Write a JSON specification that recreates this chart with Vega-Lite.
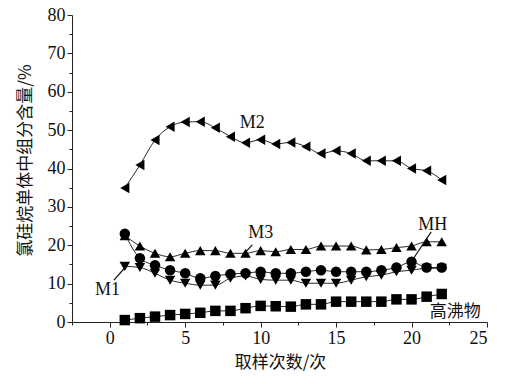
{
  "$schema": "https://vega.github.io/schema/vega-lite/v6.json",
  "width": 415,
  "height": 307,
  "autosize": {"type": "none"},
  "padding": {"left": 72, "top": 15, "right": 22, "bottom": 62},
  "background": "white",
  "config": {
    "view": {"stroke": null},
    "font": "Liberation Serif",
    "axis": {
      "grid": false,
      "domain": true,
      "domainColor": "#222",
      "tickColor": "#222",
      "labelFont": "Liberation Serif",
      "labelFontSize": 18,
      "labelColor": "#111",
      "labelOverlap": false,
      "titleFont": "Noto Sans CJK SC",
      "titleFontSize": 17,
      "titleFontWeight": "normal",
      "titleColor": "#111"
    }
  },
  "datasets": {
    "main": [
      {"series":"M2","x":1,"y":34.9},{"series":"M2","x":2,"y":40.9},{"series":"M2","x":3,"y":47.4},{"series":"M2","x":4,"y":50.9},{"series":"M2","x":5,"y":52.1},{"series":"M2","x":6,"y":52.2},{"series":"M2","x":7,"y":50.6},{"series":"M2","x":8,"y":48.3},{"series":"M2","x":9,"y":46.7},{"series":"M2","x":10,"y":47.5},{"series":"M2","x":11,"y":46.4},{"series":"M2","x":12,"y":46.8},{"series":"M2","x":13,"y":45.7},{"series":"M2","x":14,"y":43.9},{"series":"M2","x":15,"y":44.6},{"series":"M2","x":16,"y":43.9},{"series":"M2","x":17,"y":42.0},{"series":"M2","x":18,"y":42.0},{"series":"M2","x":19,"y":42.0},{"series":"M2","x":20,"y":40.0},{"series":"M2","x":21,"y":39.4},{"series":"M2","x":22,"y":37.0},
      {"series":"M3","x":1,"y":22.5},{"series":"M3","x":2,"y":19.8},{"series":"M3","x":3,"y":17.9},{"series":"M3","x":4,"y":17.0},{"series":"M3","x":5,"y":17.9},{"series":"M3","x":6,"y":18.6},{"series":"M3","x":7,"y":18.6},{"series":"M3","x":8,"y":17.9},{"series":"M3","x":9,"y":17.9},{"series":"M3","x":10,"y":18.6},{"series":"M3","x":11,"y":18.3},{"series":"M3","x":12,"y":18.9},{"series":"M3","x":13,"y":18.9},{"series":"M3","x":14,"y":19.8},{"series":"M3","x":15,"y":19.8},{"series":"M3","x":16,"y":19.8},{"series":"M3","x":17,"y":18.8},{"series":"M3","x":18,"y":18.9},{"series":"M3","x":19,"y":19.4},{"series":"M3","x":20,"y":19.8},{"series":"M3","x":21,"y":20.9},{"series":"M3","x":22,"y":20.9},
      {"series":"MH","x":1,"y":23.0},{"series":"MH","x":2,"y":16.6},{"series":"MH","x":3,"y":14.8},{"series":"MH","x":4,"y":13.5},{"series":"MH","x":5,"y":12.7},{"series":"MH","x":6,"y":11.4},{"series":"MH","x":7,"y":12.0},{"series":"MH","x":8,"y":12.5},{"series":"MH","x":9,"y":12.7},{"series":"MH","x":10,"y":13.1},{"series":"MH","x":11,"y":12.7},{"series":"MH","x":12,"y":12.7},{"series":"MH","x":13,"y":13.1},{"series":"MH","x":14,"y":13.5},{"series":"MH","x":15,"y":13.1},{"series":"MH","x":16,"y":13.1},{"series":"MH","x":17,"y":13.1},{"series":"MH","x":18,"y":13.5},{"series":"MH","x":19,"y":14.2},{"series":"MH","x":20,"y":15.7},{"series":"MH","x":21,"y":14.2},{"series":"MH","x":22,"y":14.2},
      {"series":"M1","x":1,"y":14.5},{"series":"M1","x":2,"y":14.2},{"series":"M1","x":3,"y":12.7},{"series":"M1","x":4,"y":10.9},{"series":"M1","x":5,"y":10.1},{"series":"M1","x":6,"y":9.6},{"series":"M1","x":7,"y":9.6},{"series":"M1","x":8,"y":11.4},{"series":"M1","x":9,"y":12.0},{"series":"M1","x":10,"y":11.1},{"series":"M1","x":11,"y":10.9},{"series":"M1","x":12,"y":10.9},{"series":"M1","x":13,"y":10.1},{"series":"M1","x":14,"y":10.1},{"series":"M1","x":15,"y":10.1},{"series":"M1","x":16,"y":10.9},{"series":"M1","x":17,"y":11.8},{"series":"M1","x":18,"y":12.2},{"series":"M1","x":19,"y":13.1},{"series":"M1","x":20,"y":13.5},{"series":"M1","x":21,"y":14.0},{"series":"M1","x":22,"y":14.0},
      {"series":"高沸物","x":1,"y":0.5},{"series":"高沸物","x":2,"y":1.0},{"series":"高沸物","x":3,"y":1.4},{"series":"高沸物","x":4,"y":1.8},{"series":"高沸物","x":5,"y":2.1},{"series":"高沸物","x":6,"y":2.4},{"series":"高沸物","x":7,"y":2.9},{"series":"高沸物","x":8,"y":2.9},{"series":"高沸物","x":9,"y":3.6},{"series":"高沸物","x":10,"y":4.2},{"series":"高沸物","x":11,"y":4.1},{"series":"高沸物","x":12,"y":4.0},{"series":"高沸物","x":13,"y":4.6},{"series":"高沸物","x":14,"y":4.6},{"series":"高沸物","x":15,"y":5.3},{"series":"高沸物","x":16,"y":5.3},{"series":"高沸物","x":17,"y":5.3},{"series":"高沸物","x":18,"y":5.3},{"series":"高沸物","x":19,"y":5.9},{"series":"高沸物","x":20,"y":5.9},{"series":"高沸物","x":21,"y":6.6},{"series":"高沸物","x":22,"y":7.3}
    ],
    "labels": [
      {"text":"M2","x":9.45,"y":51.9},
      {"text":"M3","x":10.0,"y":23.1},
      {"text":"M1","x":-0.15,"y":8.3},
      {"text":"MH","x":21.4,"y":25.3}
    ],
    "cnlabels": [
      {"text":"高沸物","x":22.9,"y":2.7}
    ],
    "leaders": [
      {"x":9.45,"y":20.1,"x2":8.8,"y2":17.4},
      {"x":0.28,"y":10.9,"x2":1.06,"y2":14.4},
      {"x":21.3,"y":23.5,"x2":20.05,"y2":16.1}
    ]
  },
  "encoding": {
    "x": {"field": "x", "type": "quantitative",
      "scale": {"domain": [-2.5, 25], "nice": false, "zero": false},
      "axis": {
        "values": [-2.5, 0, 2.5, 5, 7.5, 10, 12.5, 15, 17.5, 20, 22.5, 25],
        "labelExpr": "(datum.value % 5) == 0 ? datum.label : ''",
        "tickSize": {"condition": {"test": "(datum.value % 5) == 0", "value": 5}, "value": 3},
        "labelPadding": 2,
        "title": "取样次数/次",
        "titleX": 208, "titleY": 40, "titleAlign": "center", "titleBaseline": "middle"
      }},
    "y": {"field": "y", "type": "quantitative",
      "scale": {"domain": [0, 80], "nice": false},
      "axis": {
        "values": [0, 5, 10, 15, 20, 25, 30, 35, 40, 45, 50, 55, 60, 65, 70, 75, 80],
        "labelExpr": "(datum.value % 10) == 0 ? datum.label : ''",
        "tickSize": {"condition": {"test": "(datum.value % 10) == 0", "value": 5}, "value": 3},
        "labelPadding": 2,
        "title": "氯硅烷单体中组分含量/%",
        "titleAngle": 270, "titleX": -47, "titleY": 145, "titleAlign": "center", "titleBaseline": "middle"
      }}
  },
  "layer": [
    {
      "data": {"name": "main"},
      "mark": {"type": "line", "color": "#111", "strokeWidth": 0.9, "interpolate": "monotone"},
      "encoding": {
        "detail": {"field": "series", "type": "nominal"}
      }
    },
    {
      "data": {"name": "main"},
      "mark": {"type": "point", "filled": true, "color": "#000", "opacity": 1, "size": 110},
      "encoding": {
        "shape": {"field": "series", "type": "nominal", "legend": null,
          "scale": {"domain": ["M2", "M3", "MH", "M1", "高沸物"],
                    "range": ["triangle-left", "triangle-up", "circle", "triangle-down", "square"]}}
      }
    },
    {
      "data": {"name": "leaders"},
      "mark": {"type": "rule", "color": "#111", "strokeWidth": 1.2},
      "encoding": {
        "x2": {"field": "x2"},
        "y2": {"field": "y2"}
      }
    },
    {
      "data": {"name": "labels"},
      "mark": {"type": "text", "fontSize": 18, "color": "#111", "align": "center", "baseline": "middle", "font": "Liberation Serif"},
      "encoding": {
        "text": {"field": "text"}
      }
    },
    {
      "data": {"name": "cnlabels"},
      "mark": {"type": "text", "fontSize": 17, "color": "#111", "align": "center", "baseline": "middle", "font": "Noto Sans CJK SC"},
      "encoding": {
        "text": {"field": "text"}
      }
    }
  ]
}
